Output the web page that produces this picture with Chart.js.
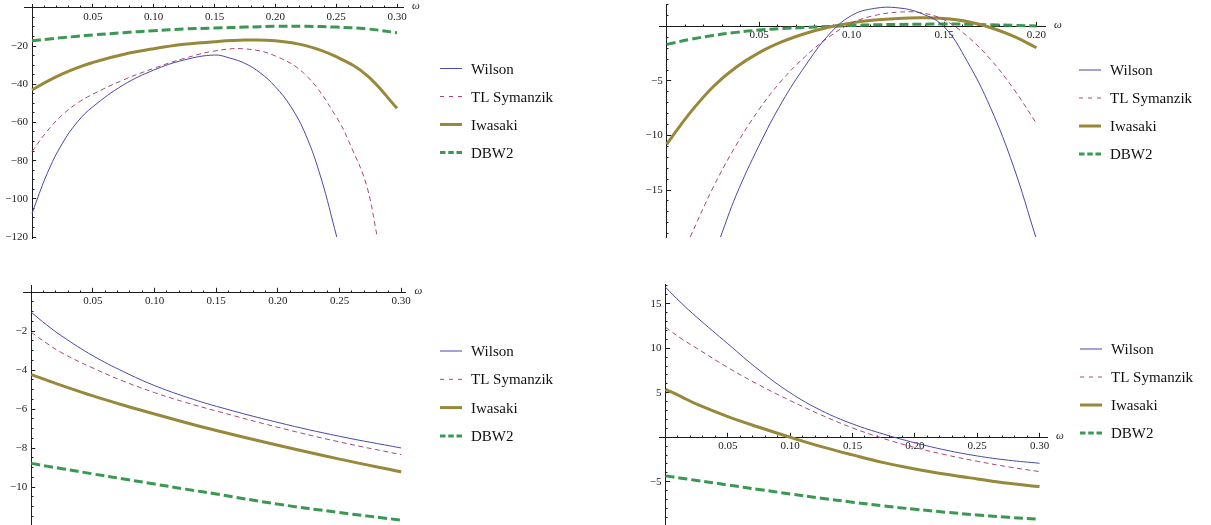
<!DOCTYPE html>
<html>
<head>
<meta charset="utf-8">
<script src="https://cdn.jsdelivr.net/npm/chart.js@4.4.1/dist/chart.umd.min.js"></script>
<style>
html, body { margin: 0; padding: 0; background: #fff; }
#wrap { position: relative; width: 1211px; height: 525px; overflow: hidden; }
canvas { position: absolute; }
</style>
</head>
<body>
<div id="wrap">
  <canvas id="c1" width="605" height="262" style="left:0;top:0"></canvas>
  <canvas id="c2" width="606" height="262" style="left:605px;top:0"></canvas>
  <canvas id="c3" width="605" height="263" style="left:0;top:262px"></canvas>
  <canvas id="c4" width="606" height="263" style="left:605px;top:262px"></canvas>
</div>
<script>
'use strict';

const seriesNames = ['Wilson', 'TL Symanzik', 'Iwasaki', 'DBW2'];

// top left
const omegaA = [0, 0.0125, 0.025, 0.0375, 0.05, 0.075, 0.10, 0.125, 0.15, 0.175, 0.20, 0.225, 0.25, 0.275, 0.30];
const aWilsonOmega = [0, 0.0125, 0.025, 0.0375, 0.05, 0.075, 0.10, 0.125, 0.15, 0.1625, 0.175, 0.1875, 0.20, 0.2125, 0.225, 0.2375, 0.2505];
const aWilson = [-107.6, -86.7, -70.9, -59.6, -51.8, -40.4, -32.6, -27.3, -24.7, -26.3, -29.1, -34.0, -41.3, -51.5, -66.5, -89.0, -120];
const aSymanzikOmega = [0, 0.0125, 0.025, 0.0375, 0.05, 0.075, 0.10, 0.125, 0.15, 0.175, 0.20, 0.225, 0.25, 0.2625, 0.275, 0.2838];
const aSymanzik = [-75.3, -64.5, -56.0, -49.8, -45.2, -37.8, -31.7, -26.5, -22.6, -21.5, -25.2, -35.2, -57.0, -73.0, -93.0, -120];
const aIwasaki = [-43.0, -38.5, -34.6, -31.3, -28.6, -24.4, -21.4, -19.1, -17.7, -16.9, -17.2, -19.8, -25.6, -35.2, -52.6];
const aDbw2 = [-17.2, -16.4, -15.6, -14.9, -14.2, -13.0, -12.0, -11.1, -10.6, -10.1, -9.7, -9.7, -10.1, -11.0, -13.0];
const aTicksX = [0.05, 0.10, 0.15, 0.20, 0.25, 0.30];
const aTicksY = [-20, -40, -60, -80, -100, -120];

// top right
const omegaB = [0, 0.0125, 0.025, 0.0375, 0.05, 0.0625, 0.075, 0.0875, 0.10, 0.1125, 0.125, 0.1375, 0.15, 0.1625, 0.175, 0.1875, 0.20];
const bWilsonOmega = [0.0291, 0.0375, 0.05, 0.0625, 0.075, 0.0875, 0.10, 0.1125, 0.125, 0.1375, 0.15, 0.1625, 0.175, 0.1875, 0.1996];
const bWilson = [-19.3, -15.5, -10.9, -6.9, -3.6, -0.8, 1.0, 1.65, 1.7, 1.2, -0.03, -3.2, -7.4, -12.8, -19.3];
const bSymanzikOmega = [0.0127, 0.025, 0.0375, 0.05, 0.0625, 0.075, 0.0875, 0.10, 0.1125, 0.125, 0.1375, 0.15, 0.1625, 0.175, 0.1875, 0.20];
const bSymanzik = [-19.3, -14.8, -10.9, -7.6, -4.9, -2.75, -1.0, 0.3, 1.0, 1.3, 1.25, 0.6, -0.9, -3.0, -5.7, -8.9];
const bIwasaki = [-10.8, -7.95, -5.55, -3.75, -2.4, -1.4, -0.65, -0.08, 0.32, 0.58, 0.73, 0.78, 0.72, 0.45, -0.1, -0.9, -1.96];
const bDbw2 = [-1.65, -1.2, -0.83, -0.55, -0.34, -0.2, -0.1, -0.01, 0.09, 0.14, 0.18, 0.2, 0.21, 0.2, 0.15, 0.09, 0.03];
const bTicksX = [0.05, 0.10, 0.15, 0.20];
const bTicksY = [-5, -10, -15];

// bottom left
const omegaC = [0, 0.0125, 0.025, 0.05, 0.075, 0.10, 0.125, 0.15, 0.20, 0.25, 0.30];
const cWilson = [-1.03, -1.68, -2.26, -3.26, -4.08, -4.79, -5.36, -5.85, -6.68, -7.39, -7.99];
const cSymanzik = [-2.06, -2.62, -3.12, -3.89, -4.57, -5.15, -5.65, -6.09, -6.93, -7.68, -8.33];
const cIwasaki = [-4.23, -4.51, -4.79, -5.32, -5.8, -6.25, -6.68, -7.09, -7.85, -8.56, -9.21];
const cDbw2 = [-8.78, -8.92, -9.05, -9.32, -9.58, -9.84, -10.1, -10.35, -10.87, -11.3, -11.69];
const cTicksX = [0.05, 0.10, 0.15, 0.20, 0.25, 0.30];
const cTicksY = [-2, -4, -6, -8, -10];

// bottom right
const omegaD = [0, 0.0125, 0.025, 0.05, 0.075, 0.10, 0.125, 0.15, 0.175, 0.20, 0.225, 0.25, 0.275, 0.30];
const dWilson = [16.85, 15.1, 13.5, 10.5, 7.55, 5.0, 3.0, 1.5, 0.35, -0.62, -1.45, -2.1, -2.58, -2.92];
const dSymanzik = [12.36, 11.1, 10.0, 7.83, 5.88, 4.12, 2.5, 1.05, -0.15, -1.15, -1.98, -2.7, -3.33, -3.86];
const dIwasaki = [5.39, 4.57, 3.71, 2.32, 1.12, 0, -1.05, -1.98, -2.85, -3.56, -4.16, -4.68, -5.17, -5.54];
const dDbw2 = [-4.34, -4.6, -4.85, -5.36, -5.87, -6.37, -6.85, -7.3, -7.72, -8.09, -8.43, -8.73, -9.0, -9.21];
const dTicksX = [0.05, 0.10, 0.15, 0.20, 0.25, 0.30];
const dTicksY = [15, 10, 5, -5];

const lineStyle = [
    { color: 'rgb(72, 72, 168)', width: 1, dash: [], legendDash: [] },
    { color: 'rgb(165, 72, 125)', width: 1, dash: [5, 3.5], legendDash: [4, 5] },
    { color: 'rgb(152, 136, 58)', width: 3, dash: [], legendDash: [] },
    { color: 'rgb(58, 152, 82)', width: 3, dash: [9, 4], legendDash: [5.5, 2.75] }
];

const axisColor = '#1c1c1c';
const tickFont = { family: 'Liberation Serif', size: 11 };

// minor tick positions between min and max
function steps(from, to, step) {
    const out = [];
    for (let k = Math.ceil(from / step - 1e-9); k * step <= to + 1e-9; k++) {
        out.push(+(k * step).toFixed(4));
    }
    return out;
}

function minusSign(v) {
    return String(v).replace('-', '\u2212');
}

// legend and omega label next to each plot
const sideLegend = {
    id: 'sideLegend',
    afterDraw(chart, args, opts) {
        const ctx = chart.ctx;
        ctx.save();
        chart.data.datasets.forEach((ds, i) => {
            const y = opts.top + i * opts.gap;
            ctx.beginPath();
            ctx.strokeStyle = ds.borderColor;
            ctx.lineWidth = ds.borderWidth;
            ctx.setLineDash(ds.legendDash);
            ctx.moveTo(opts.left, y);
            ctx.lineTo(opts.left + 22, y);
            ctx.stroke();
            ctx.setLineDash([]);
            ctx.fillStyle = '#111';
            ctx.font = '15px "Liberation Serif"';
            ctx.textBaseline = 'alphabetic';
            ctx.textAlign = 'left';
            ctx.fillText(ds.label, opts.left + 31, y + 5);
        });
        const axisY = chart.scales.y.getPixelForValue(0);
        ctx.fillStyle = '#222';
        ctx.font = 'italic 11px "Liberation Serif"';
        ctx.textBaseline = 'middle';
        ctx.fillText('\u03c9', chart.chartArea.right + 9, axisY - 1.5);
        ctx.restore();
    }
};

function tickScale(axis, min, max, values, len, extra) {
    return Object.assign({
        type: 'linear',
        axis: axis,
        min: min,
        max: max,
        bounds: 'data',
        position: axis === 'x' ? { y: 0 } : { x: 0 },
        afterBuildTicks: s => { s.ticks = values.map(v => ({ value: v })); },
        afterFit: s => { s.paddingLeft = s.paddingRight = s.paddingTop = s.paddingBottom = 0; },
        border: { display: false },
        grid: { display: true, drawOnChartArea: false, drawTicks: true, tickLength: len, color: axisColor, tickColor: axisColor, lineWidth: 1 },
        ticks: { display: false, autoSkip: false, callback: () => '' }
    }, extra || {});
}

function makePanel(id, p) {
    const areaW = p.canvasW - p.pad.left - p.pad.right;
    const labelShift = -4 * (p.xMax - p.xMin) / areaW;

    const datasets = p.series.map((s, i) => ({
        label: seriesNames[i],
        data: s[0].map((w, k) => ({ x: w, y: s[1][k] })),
        borderColor: lineStyle[i].color,
        borderWidth: lineStyle[i].width,
        borderDash: lineStyle[i].dash,
        legendDash: lineStyle[i].legendDash,
        pointRadius: 0,
        fill: false,
        tension: 0.4
    }));

    const scales = {
        x: tickScale('x', p.xMin, p.xMax, steps(p.xMin, p.xMax, 0.01), -2.5, {
            border: { display: true, color: axisColor, width: 1 }
        }),
        y: tickScale('y', p.yMin, p.yMax, steps(p.yMin, p.yMax, p.minorY), -2.5, {
            border: { display: true, color: axisColor, width: 1 }
        }),
        xMaj: tickScale('x', p.xMin, p.xMax, p.ticksX, -4.2, {
            ticks: { display: true, autoSkip: false, padding: 6.8, maxRotation: 0, font: tickFont, color: '#222', callback: v => v.toFixed(2) }
        }),
        yMaj: tickScale('y', p.yMin, p.yMax, p.ticksY, -4.2),
        yLab: tickScale('y', p.yMin, p.yMax, p.ticksY, 0, {
            position: { x: labelShift },
            grid: { display: false },
            ticks: { display: true, autoSkip: false, padding: 0, font: tickFont, color: '#222', callback: v => minusSign(v) }
        })
    };

    return new Chart(document.getElementById(id), {
        type: 'line',
        data: { datasets: datasets },
        options: {
            responsive: false,
            animation: false,
            devicePixelRatio: 1,
            events: [],
            layout: { padding: p.pad },
            scales: scales,
            plugins: {
                legend: { display: false },
                tooltip: { enabled: false },
                sideLegend: p.legend
            }
        },
        plugins: [sideLegend]
    });
}

makePanel('c1', {
    canvasW: 605,
    pad: { left: 24.7, top: 4, right: 201.9, bottom: 24 },
    xMin: -0.006, xMax: 0.305, yMin: -120.5, yMax: 2,
    minorY: 5, ticksX: aTicksX, ticksY: aTicksY,
    series: [[aWilsonOmega, aWilson], [aSymanzikOmega, aSymanzik], [omegaA, aIwasaki], [omegaA, aDbw2]],
    legend: { left: 440, top: 68.5, gap: 28 }
});

makePanel('c2', {
    canvasW: 606,
    pad: { left: 54.3, top: 4, right: 166, bottom: 25 },
    xMin: -0.004, xMax: 0.2046, yMin: -19.3, yMax: 2.05,
    minorY: 1, ticksX: bTicksX, ticksY: bTicksY,
    series: [[bWilsonOmega, bWilson], [bSymanzikOmega, bSymanzik], [omegaB, bIwasaki], [omegaB, bDbw2]],
    legend: { left: 474, top: 70, gap: 28 }
});

makePanel('c3', {
    canvasW: 605,
    pad: { left: 23.9, top: 23, right: 199.5, bottom: 0 },
    xMin: -0.006, xMax: 0.3035, yMin: -11.94, yMax: 0.37,
    minorY: 0.5, ticksX: cTicksX, ticksY: cTicksY,
    series: [[omegaC, cWilson], [omegaC, cSymanzik], [omegaC, cIwasaki], [omegaC, cDbw2]],
    legend: { left: 440, top: 89, gap: 28.3 }
});

makePanel('c4', {
    canvasW: 606,
    pad: { left: 54.3, top: 22, right: 164, bottom: 0 },
    xMin: -0.005, xMax: 0.306, yMin: -9.86, yMax: 17.22,
    minorY: 1, ticksX: dTicksX, ticksY: dTicksY,
    series: [[omegaD, dWilson], [omegaD, dSymanzik], [omegaD, dIwasaki], [omegaD, dDbw2]],
    legend: { left: 475, top: 87, gap: 28 }
});
</script>
</body>
</html>
